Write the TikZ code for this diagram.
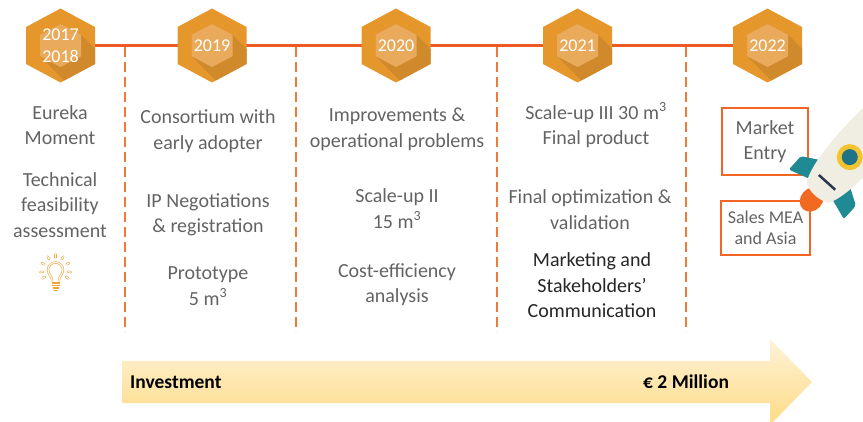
\documentclass[tikz,border=0pt]{standalone}
\usepackage{fontspec}
\setmainfont{Carlito}
\definecolor{hexout}{HTML}{E6972C}
\definecolor{hexin}{HTML}{E9AA5C}
\definecolor{hexshade}{HTML}{D08A2C}
\definecolor{tlinec}{HTML}{EE5A24}
\definecolor{dlinec}{HTML}{F07A3A}
\definecolor{txt}{HTML}{636363}
\definecolor{txtdark}{HTML}{262626}
\definecolor{boxc}{HTML}{F26522}
\definecolor{bulbc}{HTML}{F2A33A}
\definecolor{arrtop}{HTML}{FEF2D8}
\definecolor{arrbot}{HTML}{FEDC85}
\definecolor{rbody}{HTML}{F0EDE2}
\definecolor{rteal}{HTML}{1F8A94}
\definecolor{rwin}{HTML}{1E7486}
\definecolor{ryellow}{HTML}{F4C430}
\definecolor{rnavy}{HTML}{2A3650}
\definecolor{rflame}{HTML}{F26A22}
\newcommand{\cubic}{m\textsuperscript{3}}
\tikzset{
  yearhex/.pic={
    \fill[hexout] (0,-37) -- (34.5,-18.5) -- (34.5,18.5) -- (0,37) -- (-34.5,18.5) -- (-34.5,-18.5) -- cycle;
    \begin{scope}
      \clip (0,-37) -- (34.5,-18.5) -- (34.5,18.5) -- (0,37) -- (-34.5,18.5) -- (-34.5,-18.5) -- cycle;
      \fill[hexshade] (20.5,-10.75) -- (65.5,34.25) -- (65.5,55.75) -- (45,66.5) -- (24.5,55.75)
        -- (-20.5,10.75) -- (-20.5,-10.75) -- (0,-21.5) -- cycle;
    \end{scope}
    \fill[hexin] (0,-21.5) -- (20.5,-10.75) -- (20.5,10.75) -- (0,21.5) -- (-20.5,10.75) -- (-20.5,-10.75) -- cycle;
  },
  yeartext/.style={font=\fontsize{18}{22}\selectfont, text=white, align=center, inner sep=0pt},
  lbl/.style={font=\fontsize{20}{25.5}\selectfont, text=txt, align=center, inner sep=0pt},
  lbldark/.style={lbl, text=txtdark},
  mbox/.style={draw=boxc, line width=2pt, text=txt, align=center, inner sep=0pt},
  timeline/.style={draw=tlinec, line width=2.5pt},
  divider/.style={draw=dlinec, line width=2pt, dash pattern=on 10pt off 5pt},
  arrtext/.style={font=\bfseries\fontsize{19.5}{22}\selectfont, text=black, inner sep=0pt, anchor=west},
  bulbline/.style={draw=bulbc, line width=0.6pt, double=white, double distance=1.1pt}
}
\begin{document}
\begin{tikzpicture}[x=1pt, y=-1pt]
\useasboundingbox (0,0) rectangle (863,422);

% year markers on the timeline
\coordinate (h1) at (60.5,45.5);
\coordinate (h2) at (212,45.5);
\coordinate (h3) at (396,45.5);
\coordinate (h4) at (577.5,45.5);
\coordinate (h5) at (767.5,45.5);
\draw[timeline] (h1) -- (h5);

\foreach \h in {h1,h2,h3,h4,h5} \pic at (\h) {yearhex};
\node[yeartext] (y1) at (h1) {2017\\2018};
\node[yeartext] (y2) at (h2) {2019};
\node[yeartext] (y3) at (h3) {2020};
\node[yeartext] (y4) at (h4) {2021};
\node[yeartext] (y5) at (h5) {2022};

% column dividers
\foreach \i/\x in {1/125,2/296,3/497,4/686} {
  \coordinate (v\i a) at (\x,47);
  \coordinate (v\i b) at (\x,332);
  \draw[divider] (v\i a) -- (v\i b);
}

% 2017-2018
\node[lbl] (t11) at (60,125) {Eureka\\Moment};
\node[lbl] (t12) at (60,205) {Technical\\feasibility\\assessment};

% 2019
\node[lbl] (t21) at (208,131) {Consortium with\\early adopter};
\node[lbl] (t22) at (208,215) {IP Negotiations\\\& registration};
\node[lbl] (t23) at (208,286) {Prototype\\5 \cubic};

% 2020
\node[lbl] (t31) at (397,129.5) {Improvements \&\\operational problems};
\node[lbl] (t32) at (397,208.5) {Scale-up II\\15 \cubic};
\node[lbl] (t33) at (397,284.5) {Cost-efficiency\\analysis};

% 2021
\node[lbl] (t41) at (596,125.5) {Scale-up III 30 \cubic\\Final product};
\node[lbl] (t42) at (590,209.5) {Final optimization \&\\validation};
\node[lbldark] (t43) at (592,285.5) {Marketing and\\Stakeholders’\\Communication};

% 2022
\node[mbox, minimum width=86pt, minimum height=67pt, font=\fontsize{20}{25}\selectfont] (b1) at (765,141.5) {Market\\Entry};
\node[mbox, minimum width=89pt, minimum height=54pt, font=\fontsize{18}{21}\selectfont] (b2) at (765.5,228) {Sales MEA\\and Asia};

% light bulb
\begin{scope}[shift={(55.5,272)}, yscale=-1]
  \draw[bulbline] (-3.5,-9.5) -- (-3.5,-7.5) .. controls (-3.5,-5) and (-7.5,-2) .. (-7.5,2)
    arc[start angle=180, end angle=0, radius=7.5]
    .. controls (7.5,-2) and (3.5,-5) .. (3.5,-7.5) -- (3.5,-9.5);
  \draw[bulbc, line width=1.2pt] (-4,-11) -- (4,-11) (-4,-13.5) -- (4,-13.5) (-3,-16) -- (3,-16);
  \draw[bulbc, line width=1.2pt, line cap=round] (-1.5,-18.3) -- (1.5,-18.3);
  \begin{scope}[shift={(0,2)}]
    \foreach \a in {90,60,120,27,153,-8,188,-33,213}
      \draw[bulbline, line cap=round] (\a:12.5) -- (\a:15.5);
  \end{scope}
\end{scope}

% rocket
\begin{scope}[shift={(813,198)}, rotate=48, yscale=-1]
  \fill[rflame] (-2,0) ellipse [x radius=13, y radius=11];
  \fill[rteal, rounded corners=2pt] (36,15) -- (23,37) -- (5,37) -- (12,15) -- cycle;
  \fill[rteal, rounded corners=2pt] (36,-15) -- (23,-37) -- (5,-37) -- (12,-15) -- cycle;
  \fill[rbody] (7,-15) .. controls (25,-25) and (70,-26) .. (110,-22)
    .. controls (150,-12) and (150,12) .. (110,22)
    .. controls (70,26) and (25,25) .. (7,15)
    .. controls (2,6) and (2,-6) .. (7,-15) -- cycle;
  \draw[rnavy, line width=2.5pt] (21,-11) -- (21,11);
  \fill[ryellow] (55,0) circle [radius=13];
  \fill[rwin] (55,0) circle [radius=8];
\end{scope}

% investment arrow
\shade[top color=arrtop, bottom color=arrbot]
  (122,361) -- (770,361) -- (770,339) -- (812,382) -- (770,425) -- (770,403) -- (122,403) -- cycle;
\node[arrtext] (inv) at (130,382) {Investment};
\node[arrtext] (amt) at (643,382) {€ 2 Million};
\end{tikzpicture}
\end{document}
